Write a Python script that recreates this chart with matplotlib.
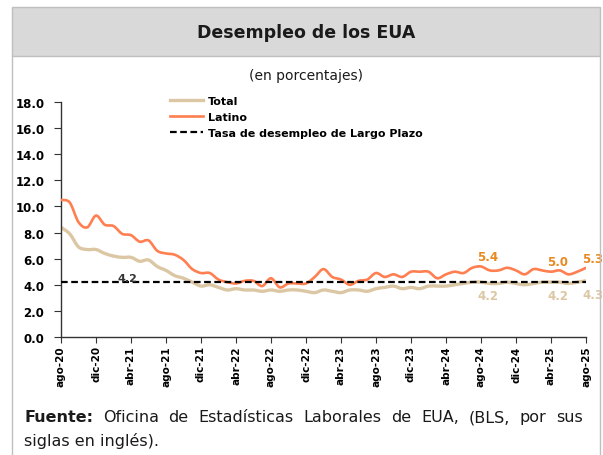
import matplotlib
matplotlib.use("Agg")
import matplotlib.pyplot as plt
from matplotlib.lines import Line2D
from matplotlib.patches import Rectangle, PathPatch
from matplotlib.path import Path

plt.rcParams['font.family'] = ['DejaVu Sans']

# ---- data ----
months = ["ago-20","sep-20","oct-20","nov-20","dic-20",
          "ene-21","feb-21","mar-21","abr-21","may-21","jun-21","jul-21","ago-21","sep-21","oct-21","nov-21","dic-21",
          "ene-22","feb-22","mar-22","abr-22","may-22","jun-22","jul-22","ago-22","sep-22","oct-22","nov-22","dic-22",
          "ene-23","feb-23","mar-23","abr-23","may-23","jun-23","jul-23","ago-23","sep-23","oct-23","nov-23","dic-23",
          "ene-24","feb-24","mar-24","abr-24","may-24","jun-24","jul-24","ago-24","sep-24","oct-24","nov-24","dic-24",
          "ene-25","feb-25","mar-25","abr-25","may-25","jun-25","jul-25","ago-25"]
total = [8.4, 7.9, 6.9, 6.7, 6.7,
         6.4, 6.2, 6.1, 6.1, 5.8, 5.9, 5.4, 5.1, 4.7, 4.5, 4.2, 3.9,
         4.0, 3.8, 3.6, 3.7, 3.6, 3.6, 3.5, 3.6, 3.5, 3.6, 3.6, 3.5,
         3.4, 3.6, 3.5, 3.4, 3.6, 3.6, 3.5, 3.7, 3.8, 3.9, 3.7, 3.8,
         3.7, 3.9, 3.9, 3.9, 4.0, 4.1, 4.2, 4.2, 4.1, 4.1, 4.2, 4.1,
         4.0, 4.1, 4.2, 4.2, 4.2, 4.1, 4.2, 4.3]
latino = [10.5, 10.3, 8.8, 8.4, 9.3,
          8.6, 8.5, 7.9, 7.8, 7.3, 7.4, 6.6, 6.4, 6.3, 5.9, 5.2, 4.9,
          4.9, 4.4, 4.2, 4.1, 4.3, 4.3, 3.9, 4.5, 3.8, 4.1, 4.1, 4.1,
          4.6, 5.2, 4.6, 4.4, 4.0, 4.3, 4.4, 4.9, 4.6, 4.8, 4.6, 5.0,
          5.0, 5.0, 4.5, 4.8, 5.0, 4.9, 5.3, 5.4, 5.1, 5.1, 5.3, 5.1,
          4.8, 5.2, 5.1, 5.0, 5.1, 4.8, 5.0, 5.3]
lt_rate = 4.2
latino_labels = {48: "5.4", 56: "5.0", 60: "5.3"}
total_labels = {48: "4.2", 56: "4.2", 60: "4.3"}

C_TOTAL = "#DCC7A4"
C_LATINO = "#FF7F50"
C_LAB = "#E8891F"

W, H = 603, 456
fig = plt.figure(figsize=(W/100, H/100), dpi=100)

def fx(px): return px / W
def fy(py): return 1 - py / H

# header box and frame
fig.patches.append(Rectangle((fx(12), fy(57)), fx(600) - fx(12), fy(8) - fy(57),
                             transform=fig.transFigure, facecolor="#D9D9D9",
                             edgecolor="#BFBFBF", lw=1.0, zorder=0))
fig.add_artist(Line2D([fx(12), fx(12)], [fy(57), 0], transform=fig.transFigure, color="#BFBFBF", lw=1.0))
fig.add_artist(Line2D([fx(600), fx(600)], [fy(57), 0], transform=fig.transFigure, color="#BFBFBF", lw=1.0))

fig.text(fx(306), fy(33), "Desempleo de los EUA", ha="center", va="center",
         fontsize=12.5, fontweight="bold", color="#1a1a1a")
fig.text(fx(306), fy(76), "(en porcentajes)", ha="center", va="center",
         fontsize=10, color="#1a1a1a")

ax = fig.add_axes([fx(61), fy(338), fx(586) - fx(61), fy(103) - fy(338)])
x = list(range(len(months)))

def smooth_path(xs, ys):
    n = len(xs)
    verts = [(xs[0], ys[0])]
    codes = [Path.MOVETO]
    for i in range(n - 1):
        i0 = max(i - 1, 0)
        i3 = min(i + 2, n - 1)
        c1 = (xs[i] + (xs[i + 1] - xs[i0]) / 6.0, ys[i] + (ys[i + 1] - ys[i0]) / 6.0)
        c2 = (xs[i + 1] - (xs[i3] - xs[i]) / 6.0, ys[i + 1] - (ys[i3] - ys[i]) / 6.0)
        verts += [c1, c2, (xs[i + 1], ys[i + 1])]
        codes += [Path.CURVE4] * 3
    return Path(verts, codes)

ax.add_patch(PathPatch(smooth_path(x, total), facecolor="none", edgecolor=C_TOTAL,
                       lw=2.4, capstyle="round", joinstyle="round", zorder=2))
ax.add_patch(PathPatch(smooth_path(x, latino), facecolor="none", edgecolor=C_LATINO,
                       lw=1.9, capstyle="round", joinstyle="round", zorder=3))
ax.plot([0, len(months) - 1], [lt_rate, lt_rate], color="black", lw=1.6,
        ls=(0, (3, 1.6)), zorder=4)

ax.text(7.6, lt_rate - 0.05, "4.2", ha="center", va="bottom", fontsize=8,
        fontweight="bold", color="#333333", zorder=5)
for i, s in latino_labels.items():
    ax.text(i + 0.8, latino[i] + 0.25, s, ha="center", va="bottom", fontsize=8.5,
            fontweight="bold", color=C_LAB)
for i, s in total_labels.items():
    ax.text(i + 0.8, total[i] - 0.55, s, ha="center", va="top", fontsize=8.5,
            fontweight="bold", color=C_TOTAL)

ax.set_xlim(0, len(months) - 1)
ax.set_ylim(0, 18)
ax.set_yticks([i * 2 for i in range(10)])
ax.set_yticklabels([f"{i*2:.1f}" for i in range(10)], fontsize=8.5, fontweight="bold")
tick_idx = list(range(0, len(months), 4))
ax.set_xticks(tick_idx)
ax.set_xticklabels([months[i] for i in tick_idx], rotation=90, fontsize=7.5, fontweight="bold")
for s in ["top", "right"]:
    ax.spines[s].set_visible(False)
for s in ["left", "bottom"]:
    ax.spines[s].set_color("#333333")
    ax.spines[s].set_linewidth(1.0)
ax.tick_params(axis="y", direction="out", length=5, color="#333333", pad=7)
ax.tick_params(axis="x", direction="out", length=4, color="#333333", pad=2)

handles = [Line2D([], [], color=C_TOTAL, lw=2.4),
           Line2D([], [], color=C_LATINO, lw=1.9),
           Line2D([], [], color="black", lw=1.6, ls=(0, (3, 1.6)))]
labels = ["Total", "Latino", "Tasa de desempleo de Largo Plazo"]
ax.legend(handles, labels, loc="upper left", bbox_to_anchor=(0.2, 1.045), frameon=False,
          prop={"size": 8, "weight": "bold"}, handlelength=2.9,
          handletextpad=0.45, labelspacing=0.55, borderaxespad=0)

# footer, justified first line
renderer = fig.canvas.get_renderer()
line1 = [("Fuente:", "bold")] + [(w, "normal") for w in
         "Oficina de Estadísticas Laborales de EUA, (BLS, por sus".split()]
objs = []
for w, wt in line1:
    t = fig.text(0, fy(418), w, ha="left", va="center", fontsize=11.5, fontweight=wt, color="#1a1a1a")
    objs.append(t)
widths = [t.get_window_extent(renderer).width for t in objs]
left_px, right_px = 24, 583
gap = (right_px - left_px - sum(widths)) / (len(objs) - 1)
pos = left_px
for t, w in zip(objs, widths):
    t.set_x(fx(pos))
    pos += w + gap
fig.text(fx(24), fy(441), "siglas en inglés).", ha="left", va="center", fontsize=11.5, color="#1a1a1a")

fig.savefig("out.png", dpi=100)
